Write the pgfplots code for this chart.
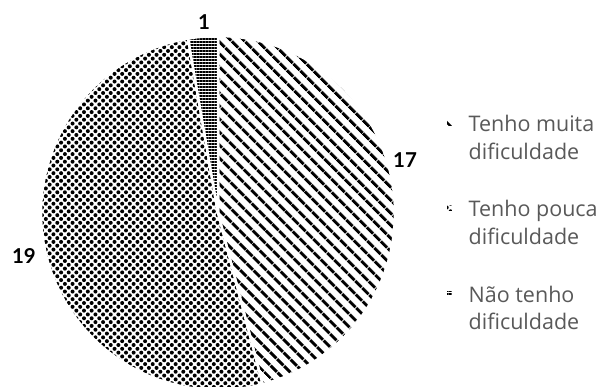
\documentclass[border=0pt]{standalone}
\usepackage{pgfplots}
\pgfplotsset{compat=1.18}
\usepackage{pgfplotstable}
\usepackage{fontspec}
\setmainfont{Open Sans}
\newfontfamily\labfont{Lato}
\usetikzlibrary{patterns.meta}
\definecolor{legtext}{HTML}{595959}
\pgfplotstableread{
cat value
muita 17
pouca 19
nao 1
}\piedata
\tikzset{
  pmuita/.style={pattern={Lines[angle=-45,distance=9.5bp,line width=3.3bp]}},
  ppouca/.style={pattern={Dots[angle=45,distance=5.4bp,radius=2.0bp]}},
  pnao/.style={pattern={Lines[angle=0,distance=3bp,line width=1.4bp]}},
}
\newcommand{\legfont}{\fontsize{21.5bp}{27.5bp}\selectfont}
\newcommand{\swatch}[1]{\fill[#1] (5bp,11bp) rectangle (13bp,19bp); \path (0bp,0bp) (25bp,0bp);}
\begin{document}
\begin{tikzpicture}
\pgfplotstablegetelem{0}{value}\of\piedata\pgfmathsetmacro{\va}{\pgfplotsretval}%
\pgfplotstablegetelem{1}{value}\of\piedata\pgfmathsetmacro{\vb}{\pgfplotsretval}%
\pgfplotstablegetelem{2}{value}\of\piedata\pgfmathsetmacro{\vc}{\pgfplotsretval}%
\pgfmathsetmacro{\tot}{\va+\vb+\vc}%
\pgfmathsetmacro{\aA}{90}%
\pgfmathsetmacro{\aB}{90-360*\va/\tot}%
\pgfmathsetmacro{\aC}{\aB-360*\vb/\tot}%
\pgfmathsetmacro{\aD}{\aC-360*\vc/\tot}%
\begin{axis}[
  width=602bp, height=387bp, scale only axis,
  xmin=0, xmax=602, ymin=0, ymax=387,
  hide axis,
  legend style={at={(axis cs:436,276)}, anchor=north west, draw=none, fill=none,
    font=\legfont, text=legtext,
    cells={anchor=west, align=left, font=\legfont}, row sep=36bp},
]
\addplot[draw=white, line width=2.5bp, pmuita, domain=\aB:\aA, samples=120, variable=\t,
  legend image code/.code={\swatch{pmuita}}]
  ({218+177*cos(t)},{174+177*sin(t)}) -- (218,174) -- cycle;
\addlegendentry{\legfont Tenho muita\\\legfont dificuldade}
\addplot[draw=white, line width=2.5bp, ppouca, domain=\aC:\aB, samples=120, variable=\t,
  legend image code/.code={\swatch{ppouca}}]
  ({218+177*cos(t)},{174+177*sin(t)}) -- (218,174) -- cycle;
\addlegendentry{\legfont Tenho pouca\\\legfont dificuldade}
\addplot[draw=white, line width=2.5bp, pnao, domain=\aD:\aC, samples=30, variable=\t,
  legend image code/.code={\swatch{pnao}}]
  ({218+177*cos(t)},{174+177*sin(t)}) -- (218,174) -- cycle;
\addlegendentry{\legfont Não tenho\\\legfont dificuldade}
\node[font=\labfont\bfseries\fontsize{20.5bp}{24bp}\selectfont] at (204,365) {1};
\node[font=\labfont\bfseries\fontsize{20.5bp}{24bp}\selectfont] at (405,227) {17};
\node[font=\labfont\bfseries\fontsize{20.5bp}{24bp}\selectfont] at (24,131) {19};
\end{axis}
\pgfresetboundingbox
\path[use as bounding box] (current axis.south west) rectangle (current axis.north east);
\end{tikzpicture}
\end{document}
